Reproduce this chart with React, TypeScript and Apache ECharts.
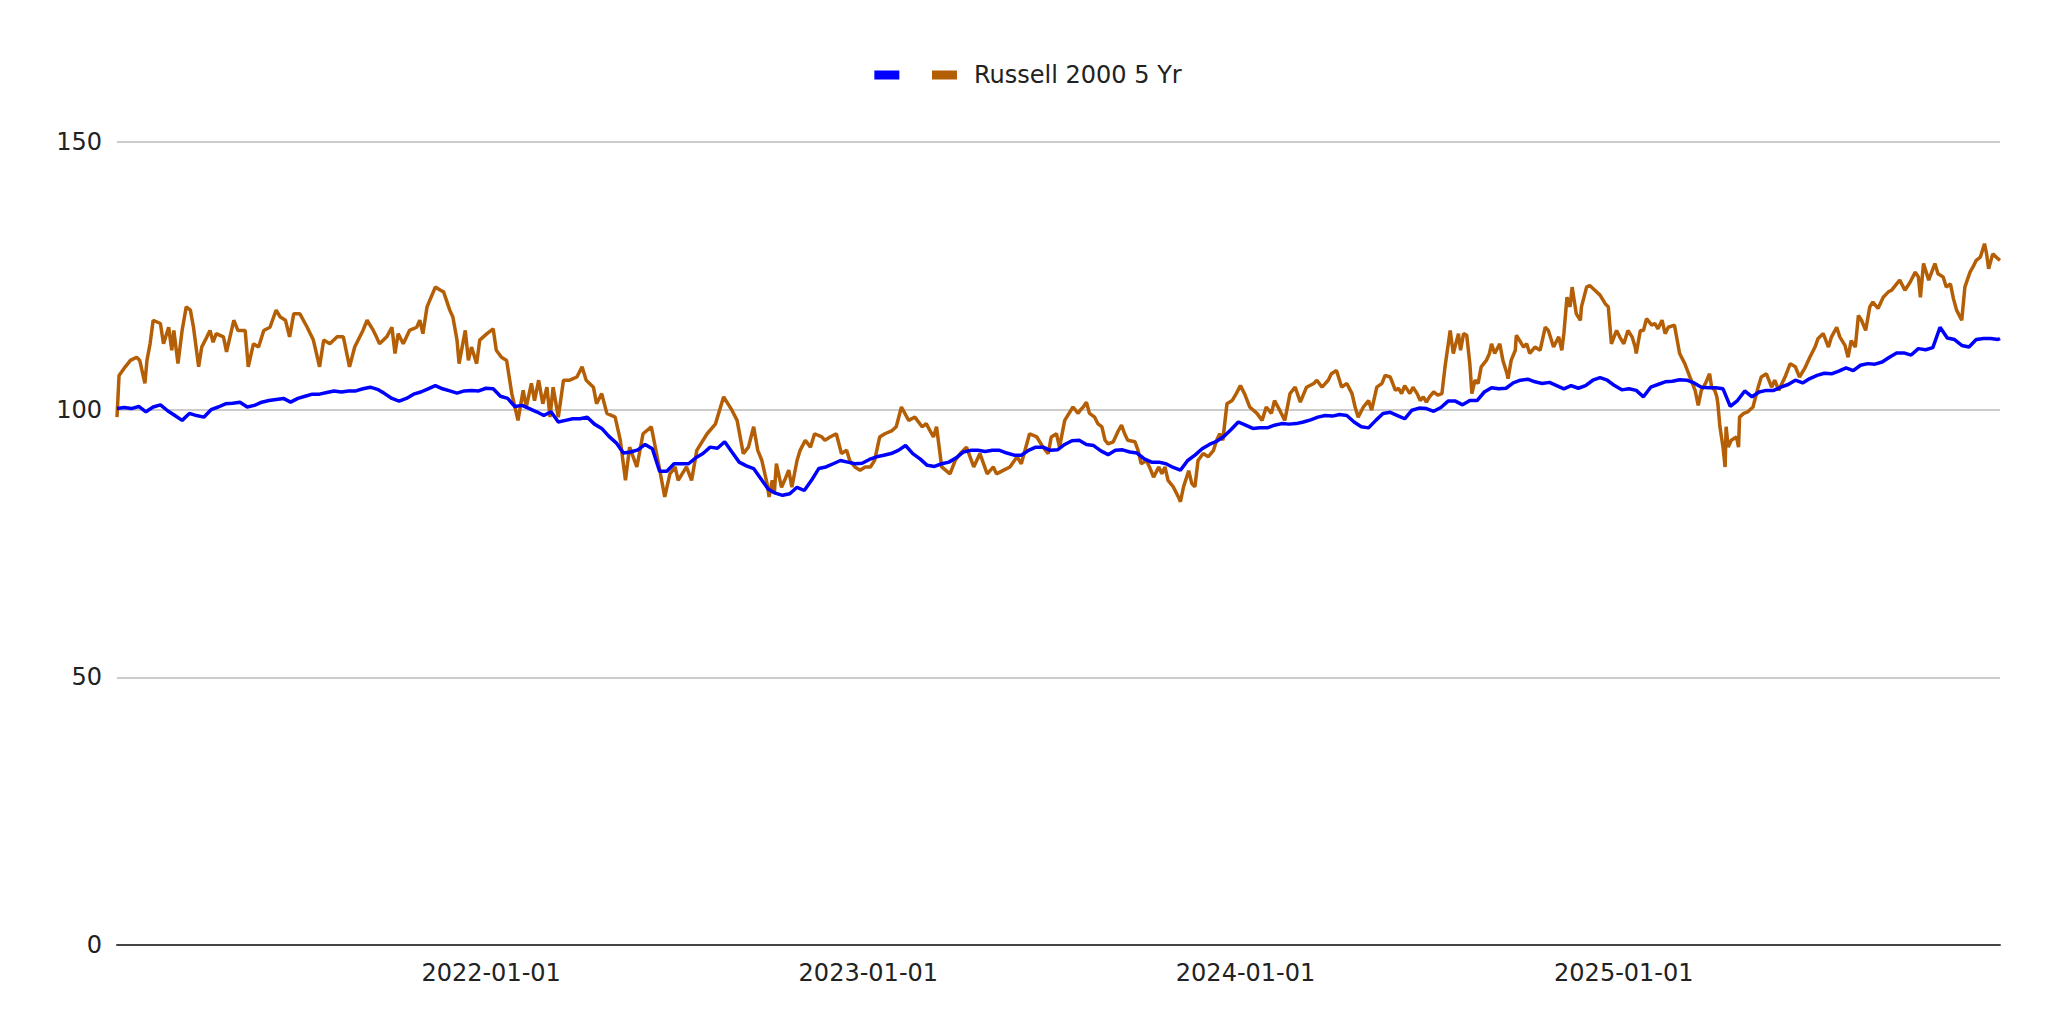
import React, { useEffect, useRef } from "react";
import * as echarts from "echarts";

// Fund: weekly observations (Mondays) from 2021-01-04, plus the final day 2025-12-31
const FIRST_WEEK = [2021, 0, 4];
const WEEK_COUNT = 261;
const LAST_DAY = [2025, 11, 31];

const seriesNames = [" ", "Russell 2000 5 Yr"];

const fundValues = [
  100.2, 100.4, 100.2, 100.6, 99.6, 100.5, 100.9, 99.8, 98.9, 98, 99.3, 98.9, 98.6, 100, 100.5, 101.1, 101.2, 101.4, 100.5, 100.8,
  101.4, 101.7, 101.9, 102.1, 101.4, 102.1, 102.5, 102.9, 102.9, 103.2, 103.5, 103.3, 103.5, 103.5, 103.9, 104.2, 103.8, 103, 102.1, 101.6,
  102.1, 102.9, 103.3, 103.9, 104.5, 103.9, 103.5, 103.1, 103.5, 103.6, 103.5, 104, 103.9, 102.5, 102.1, 100.6, 100.8, 100.2, 99.6, 98.9,
  99.6, 97.7, 98, 98.3, 98.3, 98.6, 97.3, 96.5, 95, 93.8, 91.9, 92.1, 92.5, 93.5, 92.7, 88.5, 88.5, 89.9, 89.9, 89.9,
  91, 91.8, 93, 92.8, 94, 92.1, 90.2, 89.5, 89, 87.1, 85.2, 84.4, 84, 84.3, 85.5, 84.9, 86.8, 89, 89.3, 89.9,
  90.5, 90.2, 89.9, 90, 90.7, 91.2, 91.5, 91.8, 92.4, 93.3, 91.8, 90.8, 89.6, 89.4, 89.9, 90.2, 91, 92.1, 92.4, 92.4,
  92.2, 92.4, 92.4, 91.9, 91.5, 91.5, 92.4, 93, 93, 92.4, 92.5, 93.5, 94.2, 94.3, 93.5, 93.3, 92.3, 91.6, 92.4, 92.5,
  92.1, 91.9, 90.8, 90.2, 90.2, 89.9, 89.2, 88.7, 90.5, 91.5, 92.7, 93.5, 94.1, 95, 96.3, 97.7, 97.1, 96.5, 96.6, 96.6,
  97.1, 97.4, 97.3, 97.4, 97.7, 98.1, 98.6, 98.9, 98.8, 99.1, 98.9, 97.7, 96.8, 96.6, 98, 99.3, 99.5, 98.9, 98.3, 99.9,
  100.3, 100.2, 99.7, 100.4, 101.6, 101.6, 100.9, 101.7, 101.7, 103.3, 104.1, 103.9, 104, 105, 105.5, 105.7, 105.2, 104.9, 105.1, 104.5,
  103.9, 104.5, 104, 104.5, 105.5, 106, 105.5, 104.5, 103.7, 103.9, 103.6, 102.4, 104.2, 104.7, 105.2, 105.3, 105.6, 105.5, 105, 104.2,
  104.1, 104.1, 103.9, 100.6, 101.7, 103.5, 102.4, 103.3, 103.6, 103.6, 104.2, 104.7, 105.5, 105, 105.8, 106.4, 106.8, 106.7, 107.2, 107.8,
  107.3, 108.3, 108.6, 108.5, 108.9, 109.8, 110.6, 110.6, 110.2, 111.4, 111.2, 111.6, 115.4, 113.4, 113.1, 112, 111.7, 113.1, 113.3, 113.3,
  113.1, 113.3,
];

// Russell 2000: [days since 2021-01-04, value]
const russellPoints = [
  [0, 98.6], [2, 106.4], [8, 108], [13, 109.2], [19, 109.8], [22, 109.2], [27, 104.9], [29, 109.2], [32, 112.3], [35, 116.7],
  [42, 116.1], [45, 112.3], [50, 115.4], [53, 111.1], [55, 114.8], [59, 108.6], [63, 114.8], [67, 119.2], [71, 118.6], [74, 115.4],
  [79, 108], [82, 111.7], [87, 113.6], [90, 114.8], [93, 112.6], [96, 114.2], [103, 113.6], [106, 110.8], [113, 116.7], [117, 114.8],
  [124, 114.8], [127, 108], [132, 112.3], [137, 111.7], [142, 114.8], [148, 115.4], [154, 118.6], [158, 117.3], [163, 116.7], [167, 113.6],
  [171, 117.9], [177, 117.9], [184, 115.4], [190, 113], [196, 108], [200, 113], [206, 112.3], [213, 113.6], [219, 113.6], [225, 108],
  [230, 111.7], [238, 114.8], [242, 116.7], [248, 114.8], [251, 113.6], [254, 112.3], [261, 113.6], [266, 115.4], [269, 110.5], [272, 114.2],
  [277, 112.3], [283, 114.8], [290, 115.4], [293, 116.7], [296, 114.2], [300, 119.2], [308, 122.9], [313, 122.3], [316, 122], [322, 118.6],
  [325, 117.3], [329, 113], [331, 108.6], [337, 114.8], [340, 109.2], [343, 111.7], [348, 108.6], [351, 113], [358, 114.2], [364, 115.1],
  [367, 111.1], [372, 109.8], [377, 109.2], [382, 103], [388, 98], [393, 103.6], [396, 100.5], [401, 104.9], [404, 101.7], [408, 105.5],
  [412, 101.1], [416, 104.2], [419, 98.6], [422, 104.2], [427, 98.6], [432, 105.5], [438, 105.5], [445, 106.1], [450, 108], [454, 105.5],
  [461, 104.2], [464, 101.1], [469, 103], [474, 99.3], [482, 98.6], [487, 94.3], [492, 86.8], [496, 93], [503, 89.3], [509, 95.5],
  [517, 96.8], [524, 89.9], [530, 83.7], [535, 88], [540, 89.3], [543, 86.8], [551, 89.3], [556, 86.8], [561, 92.4], [571, 95.5],
  [579, 97.3], [587, 102.4], [595, 99.9], [600, 98], [606, 91.8], [611, 93], [616, 96.8], [620, 92.4], [624, 90.5], [629, 86.2],
  [631, 83.7], [634, 86.8], [636, 84.3], [638, 89.9], [643, 85.5], [646, 86.8], [650, 88.7], [653, 85.5], [658, 90.5], [661, 92.4],
  [666, 94.3], [671, 93], [675, 95.5], [682, 94.9], [685, 94.3], [690, 94.9], [696, 95.5], [701, 91.8], [706, 92.4], [709, 90.5],
  [714, 89.3], [719, 88.7], [724, 89.3], [729, 89.3], [733, 90.5], [738, 94.9], [743, 95.5], [750, 96.1], [754, 96.8], [759, 100.5],
  [766, 98], [772, 98.6], [779, 96.8], [783, 97.4], [790, 94.9], [793, 96.8], [798, 89.3], [806, 88], [811, 90.5], [816, 91.8],
  [822, 93], [829, 89.3], [835, 91.8], [842, 88], [848, 89.3], [851, 88], [858, 88.7], [864, 89.3], [871, 91.2], [875, 89.9],
  [883, 95.5], [890, 94.9], [896, 93], [901, 91.8], [904, 94.9], [909, 95.5], [912, 93], [917, 98], [925, 100.5], [930, 99.3],
  [932, 99.9], [935, 100.5], [938, 101.4], [941, 99.3], [946, 98.6], [949, 97.4], [953, 96.8], [956, 94.3], [959, 93.6], [964, 94],
  [969, 96.1], [972, 97.1], [975, 95.5], [978, 94.3], [985, 94], [988, 92.4], [991, 89.9], [996, 90.5], [999, 89.3], [1003, 87.4],
  [1008, 89.3], [1011, 88], [1014, 89.3], [1017, 86.8], [1022, 85.6], [1027, 83.7], [1029, 82.8], [1032, 85.6], [1037, 88.6], [1040, 86.2],
  [1043, 85.6], [1046, 90.5], [1051, 91.8], [1056, 91.2], [1061, 92.4], [1064, 94.3], [1067, 95.5], [1070, 94.3], [1074, 101.1], [1079, 101.7],
  [1083, 103], [1087, 104.5], [1091, 103], [1096, 100.5], [1103, 99.3], [1108, 98], [1112, 100.5], [1117, 99.3], [1120, 101.7], [1125, 99.9],
  [1130, 98], [1135, 103], [1140, 104.2], [1145, 101.4], [1151, 104.2], [1158, 104.9], [1161, 105.5], [1166, 104.2], [1172, 105.5], [1175, 106.7],
  [1180, 107.3], [1185, 104.2], [1190, 104.9], [1195, 103], [1198, 100.5], [1201, 98.6], [1206, 100.5], [1211, 101.7], [1214, 99.9], [1219, 104.2],
  [1224, 104.9], [1227, 106.4], [1232, 106.1], [1237, 103.6], [1240, 104], [1243, 103], [1246, 104.5], [1251, 103], [1254, 104.2], [1258, 103],
  [1261, 101.7], [1264, 102.4], [1267, 101.4], [1270, 102.4], [1274, 103.3], [1278, 102.7], [1282, 103], [1285, 108], [1290, 114.8], [1293, 110.5],
  [1298, 114.2], [1300, 111.1], [1303, 114.2], [1306, 113.9], [1309, 108.6], [1311, 103], [1314, 105.5], [1317, 104.9], [1320, 108], [1325, 109.2],
  [1328, 110.5], [1330, 112.3], [1333, 110.5], [1338, 112.3], [1341, 109.2], [1345, 106.7], [1346, 105.8], [1349, 109.2], [1353, 111.1], [1354, 113.9],
  [1357, 113], [1361, 111.7], [1364, 112.3], [1367, 110.5], [1372, 111.7], [1377, 111.1], [1382, 115.4], [1385, 114.8], [1390, 111.7], [1395, 113.6],
  [1398, 111.1], [1400, 114.2], [1403, 121], [1406, 119.2], [1408, 122.9], [1412, 117.9], [1416, 116.7], [1417, 119.2], [1422, 122.9], [1425, 123.2],
  [1430, 122.3], [1435, 121.4], [1440, 119.8], [1443, 119.2], [1446, 112.3], [1451, 114.8], [1454, 113.6], [1458, 112.3], [1462, 114.8], [1466, 113.6],
  [1469, 111.7], [1470, 110.5], [1474, 114.8], [1477, 114.8], [1480, 117], [1485, 115.8], [1488, 116.1], [1491, 115.1], [1495, 116.7], [1498, 114.2],
  [1501, 115.4], [1507, 115.8], [1512, 110.5], [1517, 108.6], [1522, 106.1], [1527, 103.6], [1530, 100.8], [1533, 103.6], [1537, 104.9], [1541, 106.7],
  [1543, 104.2], [1546, 103.6], [1548, 102.4], [1549, 101.1], [1551, 96.8], [1554, 93], [1556, 89.3], [1557, 96.8], [1559, 93], [1562, 94.3],
  [1567, 94.9], [1569, 93], [1570, 98.6], [1574, 99.3], [1578, 99.6], [1583, 100.5], [1588, 104.2], [1591, 106.1], [1596, 106.7], [1601, 104.2],
  [1604, 105.5], [1608, 103.6], [1611, 104.9], [1614, 106.1], [1619, 108.6], [1624, 108], [1628, 106.1], [1633, 107.7], [1638, 109.8], [1643, 111.7],
  [1646, 113.3], [1651, 114.2], [1656, 111.7], [1659, 113.6], [1664, 115.4], [1667, 113.6], [1672, 112], [1675, 109.8], [1678, 112.9], [1682, 111.7],
  [1685, 117.6], [1688, 116.7], [1692, 114.8], [1696, 119.2], [1699, 120.1], [1704, 118.9], [1709, 121], [1714, 122], [1717, 122.3], [1722, 123.5],
  [1725, 124.2], [1730, 122.3], [1735, 123.8], [1740, 125.7], [1743, 124.8], [1745, 121], [1748, 127.3], [1753, 124.2], [1759, 127.3], [1762, 125.4],
  [1767, 124.8], [1770, 122.9], [1774, 123.5], [1777, 120.7], [1780, 118.6], [1785, 116.7], [1788, 122.9], [1793, 125.7], [1796, 126.7], [1799, 127.9],
  [1803, 128.5], [1807, 131], [1809, 129.1], [1811, 126.3], [1815, 129.1], [1820, 128.2], [1822, 127.9],
];

const yTicks = [0, 50, 100, 150];

function buildFundDates(): number[] {
  const out: number[] = [];
  for (let i = 0; i < WEEK_COUNT; i++) {
    out.push(new Date(FIRST_WEEK[0], FIRST_WEEK[1], FIRST_WEEK[2] + 7 * i).getTime());
  }
  out.push(new Date(LAST_DAY[0], LAST_DAY[1], LAST_DAY[2]).getTime());
  return out;
}

function dayToTime(day: number): number {
  return new Date(FIRST_WEEK[0], FIRST_WEEK[1], FIRST_WEEK[2] + day).getTime();
}

function pad(n: number) {
  return n < 10 ? "0" + n : String(n);
}

export default function App() {
  const ref = useRef<HTMLDivElement>(null);

  useEffect(() => {
    if (!ref.current) return;
    const chart = echarts.init(ref.current, undefined, { renderer: "svg" });
    const dates = buildFundDates();
    const fund = dates.map((d, i) => [d, fundValues[i]]);
    const russell = russellPoints.map((p) => [dayToTime(p[0]), p[1]]);
    const DAY = 24 * 3600 * 1000;
    const font = "Verdana, 'DejaVu Sans', sans-serif";

    chart.setOption({
      animation: false,
      backgroundColor: "#ffffff",
      textStyle: { fontFamily: font },
      legend: {
        show: true,
        top: 58,
        left: "center",
        icon: "rect",
        itemWidth: 25,
        itemHeight: 9,
        itemGap: 8,
        data: seriesNames,
        textStyle: {
          fontFamily: font,
          fontSize: 24,
          color: "#222222",
          padding: [0, 0, 0, 12],
        },
      },
      grid: {
        left: 117,
        right: 56,
        top: 142,
        bottom: 79,
        containLabel: false,
        outerBoundsMode: "none",
      },
      xAxis: {
        type: "time",
        min: dates[0],
        max: dates[dates.length - 1],
        minInterval: 365 * DAY,
        maxInterval: 366 * DAY,
        axisLine: { show: true, lineStyle: { color: "#444444", width: 2 } },
        axisTick: { show: false },
        splitLine: { show: false },
        axisLabel: {
          fontFamily: font,
          fontSize: 24,
          color: "#222222",
          margin: 16,
          showMinLabel: false,
          showMaxLabel: false,
          hideOverlap: false,
          formatter: (v: number) => {
            const d = new Date(v);
            if (d.getMonth() !== 0 || d.getDate() !== 1) return "";
            return d.getFullYear() + "-" + pad(d.getMonth() + 1) + "-" + pad(d.getDate());
          },
        },
      },
      yAxis: {
        type: "value",
        min: yTicks[0],
        max: yTicks[yTicks.length - 1],
        interval: 50,
        axisLine: { show: false },
        axisTick: { show: false },
        axisLabel: {
          fontFamily: font,
          fontSize: 24,
          color: "#222222",
          margin: 15,
        },
        splitLine: { show: true, lineStyle: { color: "#cccccc", width: 2 } },
      },
      series: [
        {
          name: seriesNames[0],
          type: "line",
          data: fund,
          showSymbol: false,
          symbol: "none",
          lineStyle: { color: "#0000ff", width: 3.5 },
          itemStyle: { color: "#0000ff" },
          z: 3,
        },
        {
          name: seriesNames[1],
          type: "line",
          data: russell,
          showSymbol: false,
          symbol: "none",
          lineStyle: { color: "#b45f06", width: 3.5 },
          itemStyle: { color: "#b45f06" },
          z: 2,
        },
      ],
    });

    return () => {
      chart.dispose();
    };
  }, []);

  return (
    <div
      ref={ref}
      style={{ position: "fixed", left: 0, top: 0, width: "2056px", height: "1024px", background: "#fff" }}
    />
  );
}
